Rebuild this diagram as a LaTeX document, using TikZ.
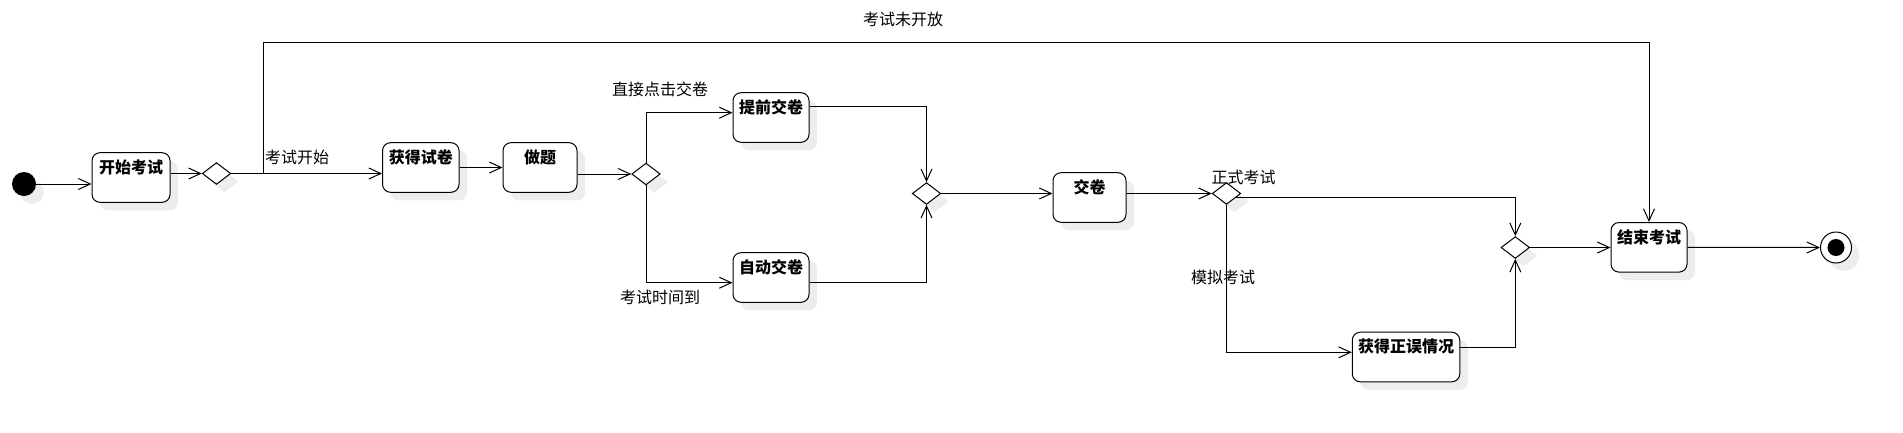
\documentclass[tikz,border=0pt]{standalone}
\usepackage{fontspec}
\setmainfont{Noto Sans CJK SC}
\usetikzlibrary{arrows.meta,shapes.geometric,shadows}
\tikzset{
  shad/.style={general shadow={fill=black!7, shadow xshift=8pt, shadow yshift=-8pt}},
  act/.style={draw, line width=1pt, rounded corners=8pt, fill=white, shad,
    minimum height=49.6pt, inner sep=0pt},
  acttext/.style={anchor=center, yshift=-15pt, font=\fontsize{16pt}{19pt}\selectfont\bfseries},
  dec/.style={diamond, draw, line width=1pt, fill=white, shad, inner sep=0pt,
    minimum width=28.5pt, minimum height=21.8pt},
  lbl/.style={font=\fontsize{16pt}{19pt}\selectfont, inner sep=0pt},
  flow/.style={line width=1pt, -{Straight Barb[length=12pt,width=11pt,line width=1pt]}}
}
\begin{document}
\begin{tikzpicture}[x=1pt,y=-1pt]
\useasboundingbox (0,0) rectangle (1903,432);
% nodes
\node[circle, fill=black, minimum size=24pt, inner sep=0pt, shad] (start) at (24,184) {};
\node[act, minimum width=78pt, label={[acttext]north:开始考试}] (b1) at (131,177.5) {};
\node[dec] (d1) at (216.5,173.5) {};
\node[act, minimum width=76.5pt, label={[acttext]north:获得试卷}] (b2) at (420.75,167.5) {};
\node[act, minimum width=74pt, label={[acttext]north:做题}] (b3) at (540,167.5) {};
\node[dec] (d2) at (646,174) {};
\node[act, minimum width=76pt, label={[acttext]north:提前交卷}] (b4) at (771,117.5) {};
\node[act, minimum width=76pt, label={[acttext]north:自动交卷}] (b5) at (771,277.5) {};
\node[dec] (d3) at (926.5,193.5) {};
\node[act, minimum width=73pt, label={[acttext]north:交卷}] (b6) at (1089.5,197.5) {};
\node[dec] (d4) at (1226.5,193.5) {};
\node[act, minimum width=107.5pt, label={[acttext]north:获得正误情况}] (b7) at (1406,357) {};
\node[dec] (d5) at (1515.3,247.5) {};
\node[act, minimum width=76pt, label={[acttext]north:结束考试}] (b8) at (1649,247.3) {};
\node[circle, draw, line width=1pt, fill=white, minimum size=31pt, inner sep=0pt, shad] (end) at (1836,247.5) {};
\node[circle, fill=black, minimum size=17pt, inner sep=0pt] (endin) at (end.center) {};
% labels
\node[lbl, anchor=west] (l1) at (265,157) {考试开始};
\node[lbl] (l2) at (903,19) {考试未开放};
\node[lbl] (l3) at (660,89) {直接点击交卷};
\node[lbl] (l4) at (660,297) {考试时间到};
\node[lbl] (l5) at (1243.5,177.5) {正式考试};
\node[lbl] (l6) at (1223,277.5) {模拟考试};
\coordinate (k1) at (263,42.7);
% connectors
\draw[flow] (start.east) -- (start.east -| b1.west);
\draw[flow] (b1.east |- d1.west) -- (d1.west);
\draw[flow] (d1.east) -- (d1.east -| b2.west);
\draw[flow] (d1.east) -| (k1) -| (b8.north);
\draw[flow] (b2.east) -- (b3.west);
\draw[flow] (b3.east |- d2.west) -- (d2.west);
\draw[flow] (d2.north) |- ([yshift=4.8pt]b4.west);
\draw[flow] (d2.south) |- ([yshift=-5.2pt]b5.west);
\draw[flow] ([yshift=11.5pt]b4.east) -| (d3.north);
\draw[flow] ([yshift=-5.2pt]b5.east) -| (d3.south);
\draw[flow] (d3.east) -- (d3.east -| b6.west);
\draw[flow] (b6.east |- d4.west) -- (d4.west);
\draw[flow] ([xshift=9pt,yshift=-4pt]d4.center) -| (d5.north);
\draw[flow] (d4.south) |- ([yshift=4.7pt]b7.west);
\draw[flow] ([yshift=9.7pt]b7.east) -| (d5.south);
\draw[flow] (d5.east) -- (d5.east -| b8.west);
\draw[flow] (b8.east) -- (end.west);
\end{tikzpicture}
\end{document}
